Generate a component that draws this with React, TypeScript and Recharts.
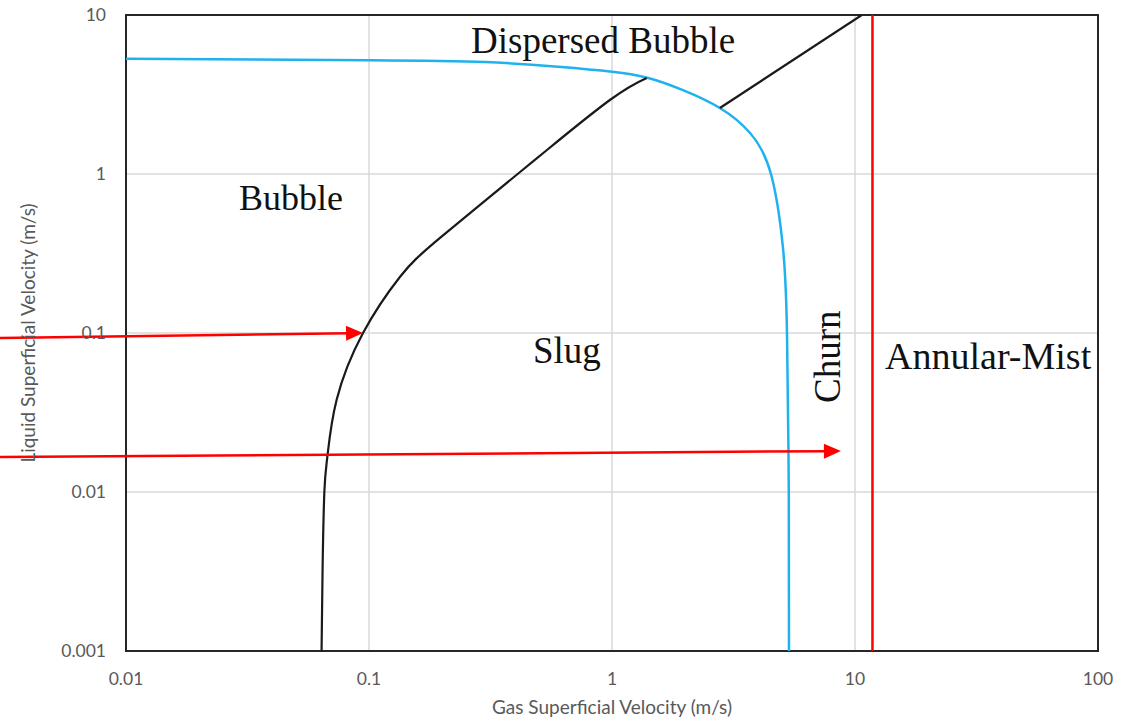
import React from 'react';
import {
  ComposedChart,
  Line,
  XAxis,
  YAxis,
  CartesianGrid,
  ReferenceLine,
  ReferenceArea,
  ReferenceDot,
  Label,
} from 'recharts';

// ---- axis ticks ----
const xTicks = [0.01, 0.1, 1, 10, 100];
const yTicks = [0.001, 0.01, 0.1, 1, 10];

// ---- Bubble / Slug boundary (black) ----
const bubbleSlugX = [0.0638, 0.0644, 0.0655, 0.0674, 0.0736, 0.0945, 0.134, 0.196, 0.409, 0.54, 0.98, 1.39];
const bubbleSlugY = [0.001, 0.0032, 0.01, 0.0167, 0.038, 0.1, 0.225, 0.396, 1.0, 1.416, 2.92, 4.02];

// ---- Dispersed bubble boundary (blue) ----
const dispersedX = [0.01, 0.1, 0.3, 0.6, 1.0, 1.41, 1.96, 2.78, 3.7, 4.51, 5.05, 5.25, 5.34, 5.35];
const dispersedY = [5.3, 5.2, 5.06, 4.73, 4.4, 4.02, 3.37, 2.6, 1.81, 1.0, 0.347, 0.1, 0.0093, 0.001];

// ---- Churn / dispersed boundary (black segment) ----
const churnX = [2.78, 10.66];
const churnY = [2.6, 10];

// ---- Annular transition (red vertical) ----
const annularX = 11.8;

// ---- red arrows ----
const arrowStartX = [0.00303, 0.00303];
const arrowStartY = [0.0931, 0.0166];
const arrowEndX = [0.0945, 8.75];
const arrowEndY = [0.1, 0.0181];

// ---- region labels ----
const regionNames = ['Dispersed Bubble', 'Bubble', 'Slug', 'Annular-Mist', 'Churn'];
const regionX = [0.263, 0.0292, 0.473, 13.3, 8.67];
const regionY = [5.77, 0.594, 0.0647, 0.0594, 0.0363];
const regionRotated = [false, false, false, false, true];
const regionSize = [37, 36, 37, 38, 37];

const blackData = bubbleSlugX.map((x, i) => ({ x, y: bubbleSlugY[i] }));
const blueData = dispersedX.map((x, i) => ({ x, y: dispersedY[i] }));
const churnData = churnX.map((x, i) => ({ x, y: churnY[i] }));

const TICK_FONT = 'Lato, "Open Sans", sans-serif';
const LABEL_FONT = '"Liberation Serif", "Times New Roman", serif';
const GRAY = '#595959';

const ArrowShape = (props: any) => {
  const { x1, y1, x2, y2 } = props;
  const dx = x2 - x1;
  const dy = y2 - y1;
  const len = Math.sqrt(dx * dx + dy * dy) || 1;
  const ux = dx / len;
  const uy = dy / len;
  const headLen = 17;
  const halfW = 7.5;
  const bx = x2 - ux * headLen;
  const by = y2 - uy * headLen;
  const px = -uy;
  const py = ux;
  return (
    <g>
      <line x1={x1} y1={y1} x2={bx + ux * 2} y2={by + uy * 2} stroke="#FF0000" strokeWidth={2.5} />
      <polygon
        points={`${x2},${y2} ${bx + px * halfW},${by + py * halfW} ${bx - px * halfW},${by - py * halfW}`}
        fill="#FF0000"
      />
    </g>
  );
};

const makeRegionShape = (text: string, rotated: boolean, size: number) => (props: any) => {
  const { cx, cy } = props;
  return (
    <text
      x={cx}
      y={cy}
      textAnchor="start"
      fontFamily={LABEL_FONT}
      fontSize={size}
      fill="#111"
      transform={rotated ? `rotate(-90, ${cx}, ${cy})` : undefined}
    >
      {text}
    </text>
  );
};

export default function App() {
  return (
    <div style={{ position: 'absolute', left: 0, top: 0, background: '#fff' }}>
      <ComposedChart
        width={1128}
        height={721}
        margin={{ top: 15, right: 30, bottom: 0, left: 0 }}
      >
        <CartesianGrid stroke="#d9d9d9" strokeWidth={1.5} />
        <XAxis
          dataKey="x"
          type="number"
          scale="log"
          domain={[0.01, 100]}
          ticks={xTicks}
          allowDataOverflow
          height={70}
          tickLine={false}
          tickSize={0}
          tickMargin={22}
          axisLine={false}
          tick={{ fill: GRAY, fontSize: 17.5, fontFamily: TICK_FONT }}
        >
          <Label
            content={(p: any) => {
              const vb = p.viewBox || { x: 126, y: 651, width: 972 };
              return (
                <text
                  x={vb.x + vb.width / 2}
                  y={vb.y + 63}
                  textAnchor="middle"
                  fill={GRAY}
                  fontSize={19}
                  fontFamily={TICK_FONT}
                >
                  Gas Superficial Velocity (m/s)
                </text>
              );
            }}
          />
        </XAxis>
        <YAxis
          dataKey="y"
          type="number"
          scale="log"
          domain={[0.001, 10]}
          ticks={yTicks}
          allowDataOverflow
          width={126}
          tickLine={false}
          tickSize={0}
          tickMargin={20}
          axisLine={false}
          tick={{ fill: GRAY, fontSize: 17.5, fontFamily: TICK_FONT }}
        >
          <Label
            content={(p: any) => {
              const vb = p.viewBox || { x: 0, y: 15, width: 126, height: 636 };
              const cx = vb.x + 35;
              const cy = vb.y + vb.height / 2;
              return (
                <text
                  x={cx}
                  y={cy}
                  textAnchor="middle"
                  fill={GRAY}
                  fontSize={19}
                  fontFamily={TICK_FONT}
                  transform={`rotate(-90, ${cx}, ${cy})`}
                >
                  Liquid Superficial Velocity (m/s)
                </text>
              );
            }}
          />
        </YAxis>

        <Line
          data={blueData}
          dataKey="y"
          type="natural"
          stroke="#1FB2EE"
          strokeWidth={2.5}
          dot={false}
          isAnimationActive={false}
        />
        <Line
          data={blackData}
          dataKey="y"
          type="natural"
          stroke="#1a1a1a"
          strokeWidth={2.2}
          dot={false}
          isAnimationActive={false}
        />
        <Line
          data={churnData}
          dataKey="y"
          type="linear"
          stroke="#1a1a1a"
          strokeWidth={2.2}
          dot={false}
          isAnimationActive={false}
        />
        <ReferenceLine x={annularX} stroke="#FF0000" strokeWidth={2.5} />

        {arrowStartX.map((sx, i) => (
          <ReferenceLine
            key={`arrow-${i}`}
            segment={[
              { x: sx, y: arrowStartY[i] },
              { x: arrowEndX[i], y: arrowEndY[i] },
            ]}
            ifOverflow="visible"
            shape={ArrowShape}
          />
        ))}

        {regionNames.map((name, i) => (
          <ReferenceDot
            key={name}
            x={regionX[i]}
            y={regionY[i]}
            r={0}
            ifOverflow="visible"
            shape={makeRegionShape(name, regionRotated[i], regionSize[i])}
          />
        ))}

        <ReferenceArea
          x1={0.01}
          x2={100}
          y1={0.001}
          y2={10}
          fill="none"
          fillOpacity={0}
          stroke="#262626"
          strokeWidth={2}
          ifOverflow="visible"
        />
      </ComposedChart>
    </div>
  );
}
